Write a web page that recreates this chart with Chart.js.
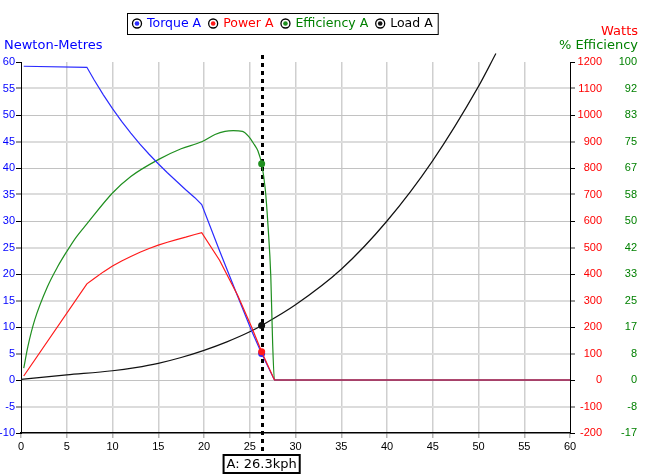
<!DOCTYPE html>
<html>
<head>
<meta charset="utf-8">
<script src="https://cdn.jsdelivr.net/npm/chart.js@4.4.1/dist/chart.umd.min.js"></script>
<style>
  html, body { margin: 0; padding: 0; background: #fff; }
  #wrap { width: 655px; height: 475px; }
</style>
</head>
<body>
<div id="wrap"><canvas id="motorChart" width="655" height="475"></canvas></div>
<script>
// --- cursor position (kph) ---
const cursorKph = 26.3;

// --- Torque A (Nm) ---
const torqueKph = [0.3, 7.2, 8, 9, 10, 11, 12, 13, 14, 15, 16, 17, 18, 19, 19.75, 21.7, 23.7, 25.2, 26.3, 27.7, 60];
const torqueNm  = [59.2, 59.0, 56.6, 53.8, 51.2, 48.8, 46.6, 44.5, 42.6, 40.8, 39.1, 37.5, 35.9, 34.4, 33.1, 24.4, 15.7, 9.3, 5.0, 0, 0];

// --- Power A (W) ---
const powerKph = [0.3, 7.2, 8, 9, 10, 11, 12, 13, 14, 15, 16, 17, 18, 19, 19.75, 21.7, 23.7, 25.2, 26.3, 27.7, 60];
const powerW   = [15, 363, 383, 408, 430, 449, 466, 482, 496, 509, 520, 530, 539, 549, 556, 452, 318, 200, 107, 0, 0];

// --- Efficiency A (%) ---
const effKph = [0.3, 0.75, 1.5, 2.9, 4, 5, 6, 7.2, 10, 12, 15, 17.5, 19.75, 21.2, 22.3, 23.2, 24.2, 24.85, 25.5, 25.9, 26.3, 26.7, 27.0, 27.3, 27.5, 27.7, 60];
const effPct = [3.7, 10.5, 18.9, 29.4, 35.6, 40.4, 44.8, 49.1, 58.8, 64, 69.3, 72.7, 74.9, 77.2, 78.2, 78.4, 78.2, 76.7, 74, 72, 68, 59.9, 48.3, 32.6, 11.7, 0, 0];

// --- Load A (Nm) ---
const loadKph = [0, 5, 10, 12.5, 15, 17.5, 20, 22.5, 25, 26.3, 30, 35, 40, 45, 50, 51.9];
const loadNm  = [0.1, 0.95, 1.75, 2.35, 3.15, 4.25, 5.6, 7.2, 9.1, 10.3, 14.2, 20.9, 30.0, 41.4, 55.4, 61.6];

// --- efficiency axis labels (bottom to top) ---
const effTickLabels = ['-17', '-8', '0', '8', '17', '25', '33', '42', '50', '58', '67', '75', '83', '92', '100'];

const seriesNames = ['Torque A', 'Power A', 'Efficiency A', 'Load A'];
const lineColours = ['#2b2bff', '#ff1a1a', '#1f8f1f', '#111111'];
const textColours = ['#0000ff', '#ff0000', '#008000', '#000000'];

const pts = (xs, ys) => xs.map((x, i) => ({ x: x, y: ys[i] }));
const cursorDot = ctx => (ctx.raw && ctx.raw.x === cursorKph) ? 3.5 : 0;

const tickFont = { family: 'Liberation Sans, Arial, sans-serif', size: 11 };
const labelFont = '13px "DejaVu Sans", Verdana, sans-serif';
const legendFont = '12.5px "DejaVu Sans", Verdana, sans-serif';

function lineSet(label, data, axis, colour, extra) {
    return Object.assign({
        label: label,
        data: data,
        yAxisID: axis,
        borderColor: colour,
        backgroundColor: colour,
        borderWidth: 1.2,
        pointRadius: cursorDot,
        pointHoverRadius: 0,
        pointBorderWidth: 0,
        pointBackgroundColor: colour,
        tension: 0,
        fill: false
    }, extra || {});
}

// --- cursor line, legend box, axis titles, cursor label ---
const overlayPlugin = {
    id: 'overlay',
    beforeDatasetsDraw(chart) {
        const ctx = chart.ctx;
        const area = chart.chartArea;
        const x = Math.round(chart.scales.x.getPixelForValue(cursorKph)) + 0.5;
        ctx.save();
        ctx.strokeStyle = '#000';
        ctx.lineWidth = 3;
        ctx.setLineDash([4, 4]);
        ctx.beginPath();
        ctx.moveTo(x, area.top - 7);
        ctx.lineTo(x, area.bottom + 22);
        ctx.stroke();
        ctx.restore();
    },
    afterDraw(chart) {
        const ctx = chart.ctx;
        const area = chart.chartArea;
        ctx.save();
        ctx.font = labelFont;
        ctx.textBaseline = 'middle';

        // axis titles
        ctx.textAlign = 'left';
        ctx.fillStyle = '#0000ff';
        ctx.fillText('Newton-Metres', 4, 46);
        ctx.textAlign = 'right';
        ctx.fillStyle = '#ff0000';
        ctx.fillText('Watts', 638, 32);
        ctx.fillStyle = '#008000';
        ctx.fillText('% Efficiency', 638, 46);

        // legend
        ctx.font = legendFont;
        ctx.textAlign = 'left';
        let x = 137;
        const ly = 23.5;
        seriesNames.forEach((name, i) => {
            ctx.beginPath();
            ctx.arc(x, ly, 4.5, 0, Math.PI * 2);
            ctx.fillStyle = '#fff';
            ctx.fill();
            ctx.lineWidth = 1.3;
            ctx.strokeStyle = '#000';
            ctx.stroke();
            ctx.beginPath();
            ctx.arc(x, ly, 2.3, 0, Math.PI * 2);
            ctx.fillStyle = lineColours[i];
            ctx.fill();
            ctx.fillStyle = textColours[i];
            ctx.fillText(name, x + 10, ly);
            x += 10 + ctx.measureText(name).width + 12;
        });
        ctx.lineWidth = 1;
        ctx.strokeStyle = '#000';
        ctx.strokeRect(127.5, 13.5, x - 12 + 5 - 127, 21);

        // cursor label
        ctx.font = labelFont;
        const cx = chart.scales.x.getPixelForValue(cursorKph);
        const txt = 'A: ' + cursorKph.toFixed(1) + 'kph';
        const w = ctx.measureText(txt).width + 6;
        ctx.fillStyle = '#fff';
        ctx.fillRect(cx - w / 2, area.bottom + 22, w, 18);
        ctx.lineWidth = 2;
        ctx.strokeRect(cx - w / 2, area.bottom + 22, w, 18);
        ctx.fillStyle = '#000';
        ctx.textAlign = 'center';
        ctx.fillText(txt, cx, area.bottom + 31.5);
        ctx.restore();
    }
};

new Chart(document.getElementById('motorChart'), {
    type: 'line',
    data: {
        datasets: [
            lineSet('Power A', pts(powerKph, powerW), 'yW', lineColours[1]),
            lineSet('Torque A', pts(torqueKph, torqueNm), 'y', lineColours[0]),
            lineSet('Efficiency A', pts(effKph, effPct), 'yE', lineColours[2], { cubicInterpolationMode: 'monotone' }),
            lineSet('Load A', pts(loadKph, loadNm), 'y', lineColours[3], { cubicInterpolationMode: 'monotone', clip: { left: 0, top: 12, right: 0, bottom: 0 } })
        ]
    },
    options: {
        responsive: false,
        animation: false,
        events: [],
        layout: { padding: { top: 62, left: 0, right: 18, bottom: 0 } },
        plugins: {
            legend: { display: false },
            tooltip: { enabled: false }
        },
        scales: {
            x: {
                type: 'linear',
                min: 0,
                max: 60,
                ticks: { stepSize: 5, color: '#000', font: tickFont, padding: 2, maxRotation: 0, autoSkip: false },
                grid: {
                    color: ctx => (ctx.tick && (ctx.tick.value === 0 || ctx.tick.value === 60)) ? 'rgba(0,0,0,0)' : '#cfcfcf',
                    lineWidth: 1.5,
                    tickLength: 5,
                    tickColor: '#b5b5b5'
                },
                border: { color: '#000', width: 1.5 },
                afterFit: s => { s.height = 42; }
            },
            y: {
                position: 'left',
                min: -10,
                max: 60,
                ticks: { stepSize: 5, color: '#0000ff', font: tickFont, padding: 1 },
                grid: {
                    color: ctx => {
                        const v = ctx.tick ? ctx.tick.value : 0;
                        if (v === 60 || v === -10) return 'rgba(0,0,0,0)';
                        return v % 10 === 0 ? '#c2c2c2' : '#dcdcdc';
                    },
                    lineWidth: ctx => (ctx.tick && ctx.tick.value % 10 === 0) ? 1 : 2,
                    tickLength: 5,
                    tickColor: ctx => (ctx.tick && ctx.tick.value % 10 === 0) ? '#000' : '#999'
                },
                border: { color: '#000', width: 1 },
                afterFit: s => { s.width = 21; }
            },
            yW: {
                position: 'right',
                weight: 0,
                min: -200,
                max: 1200,
                ticks: { stepSize: 100, color: '#ff0000', font: tickFont, crossAlign: 'far', callback: v => String(v) },
                grid: {
                    drawOnChartArea: false,
                    tickLength: 5,
                    lineWidth: ctx => (ctx.tick && ctx.tick.value % 200 === 0) ? 1 : 2,
                    tickColor: ctx => (ctx.tick && ctx.tick.value % 200 === 0) ? '#000' : '#999'
                },
                border: { color: '#000', width: 1 },
                afterFit: s => { s.width = 32; }
            },
            yE: {
                position: 'right',
                weight: 1,
                min: -50 / 3,
                max: 100,
                afterBuildTicks: s => {
                    s.ticks = effTickLabels.map((l, i) => ({ value: -50 / 3 + i * 25 / 3 }));
                },
                ticks: { color: '#008000', font: tickFont, crossAlign: 'far', callback: (v, i) => effTickLabels[i] },
                grid: { display: false, drawTicks: false },
                border: { display: false },
                afterFit: s => { s.width = 35; }
            }
        }
    },
    plugins: [overlayPlugin]
});
</script>
</body>
</html>
